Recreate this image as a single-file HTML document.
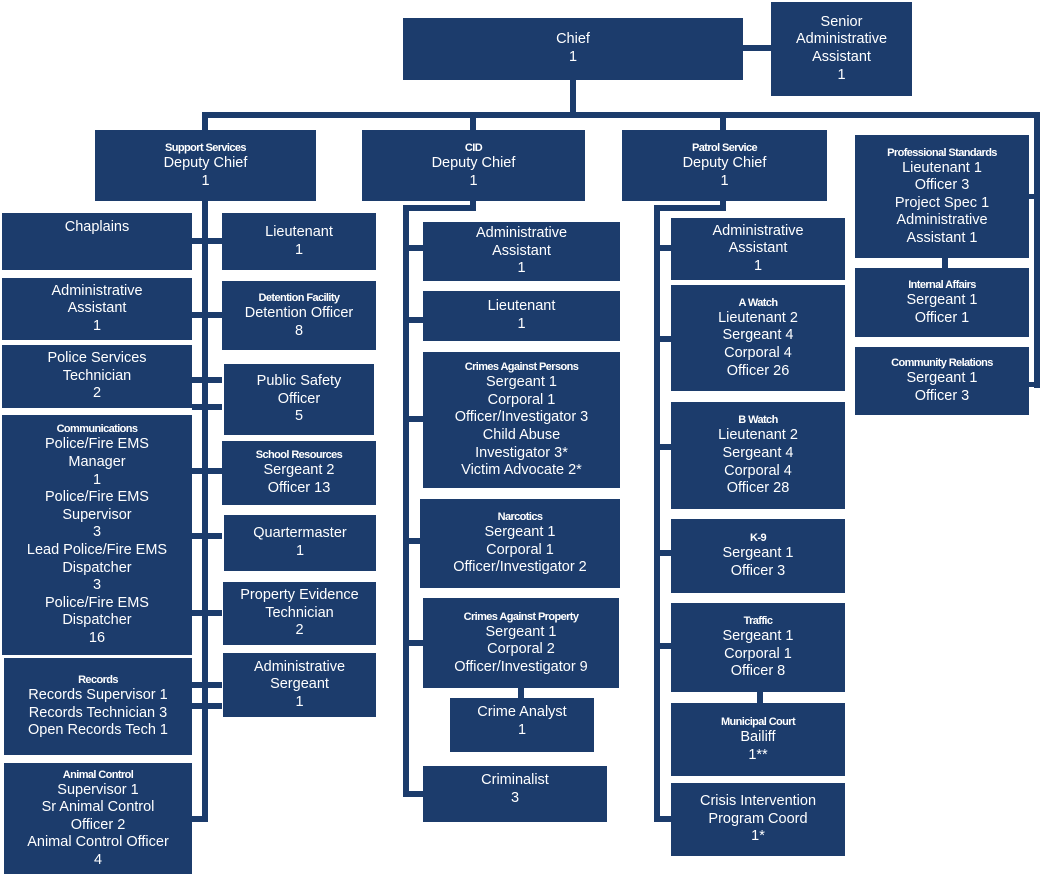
<!DOCTYPE html>
<html><head><meta charset="utf-8"><style>
body{margin:0;background:#fff;}
#c{position:relative;width:1042px;height:879px;overflow:hidden;background:#fff;font-family:"Liberation Sans",sans-serif;}
.b{position:absolute;background:#1c3c6c;color:#fff;display:flex;flex-direction:column;align-items:center;justify-content:center;text-align:center;font-size:14.5px;line-height:17.6px;box-sizing:border-box;}
.b.t{justify-content:flex-start;padding-top:6px;}
.h{font-weight:bold;font-size:11px;letter-spacing:-0.6px;line-height:14px;}
.l{position:absolute;background:#1c3c6c;}
</style></head><body><div id="c">
<!-- connectors -->
<div class="l" style="left:743px;top:45px;width:28px;height:6px"></div>
<div class="l" style="left:570px;top:80px;width:6px;height:36px"></div>
<div class="l" style="left:202px;top:112px;width:838px;height:6px"></div>
<div class="l" style="left:1034px;top:112px;width:6px;height:276px"></div>
<div class="l" style="left:1029px;top:194px;width:8px;height:5px"></div>
<div class="l" style="left:1029px;top:382px;width:8px;height:5px"></div>
<div class="l" style="left:202px;top:112px;width:6px;height:20px"></div>
<div class="l" style="left:470px;top:112px;width:6px;height:20px"></div>
<div class="l" style="left:720px;top:112px;width:6px;height:20px"></div>
<div class="l" style="left:942px;top:258px;width:6px;height:10px"></div>
<!-- support -->
<div class="l" style="left:202px;top:201px;width:6px;height:621px"></div>
<div class="l" style="left:192px;top:238px;width:30px;height:6px"></div>
<div class="l" style="left:192px;top:312px;width:30px;height:6px"></div>
<div class="l" style="left:192px;top:377px;width:30px;height:6px"></div>
<div class="l" style="left:192px;top:404px;width:30px;height:6px"></div>
<div class="l" style="left:192px;top:468px;width:30px;height:6px"></div>
<div class="l" style="left:192px;top:533px;width:30px;height:6px"></div>
<div class="l" style="left:192px;top:610px;width:30px;height:6px"></div>
<div class="l" style="left:192px;top:682px;width:30px;height:6px"></div>
<div class="l" style="left:192px;top:703px;width:30px;height:6px"></div>
<div class="l" style="left:192px;top:816px;width:16px;height:6px"></div>
<!-- CID -->
<div class="l" style="left:470px;top:201px;width:6px;height:9px"></div>
<div class="l" style="left:403px;top:205px;width:73px;height:6px"></div>
<div class="l" style="left:403px;top:205px;width:6px;height:592px"></div>
<div class="l" style="left:403px;top:245px;width:20px;height:6px"></div>
<div class="l" style="left:403px;top:317px;width:20px;height:6px"></div>
<div class="l" style="left:403px;top:416px;width:20px;height:6px"></div>
<div class="l" style="left:403px;top:538px;width:20px;height:6px"></div>
<div class="l" style="left:403px;top:640px;width:20px;height:6px"></div>
<div class="l" style="left:403px;top:791px;width:20px;height:6px"></div>
<div class="l" style="left:518px;top:688px;width:6px;height:10px"></div>
<!-- patrol -->
<div class="l" style="left:720px;top:201px;width:6px;height:9px"></div>
<div class="l" style="left:654px;top:205px;width:72px;height:6px"></div>
<div class="l" style="left:654px;top:205px;width:6px;height:617px"></div>
<div class="l" style="left:654px;top:245px;width:17px;height:6px"></div>
<div class="l" style="left:654px;top:336px;width:17px;height:6px"></div>
<div class="l" style="left:654px;top:444px;width:17px;height:6px"></div>
<div class="l" style="left:654px;top:550px;width:17px;height:6px"></div>
<div class="l" style="left:654px;top:643px;width:17px;height:6px"></div>
<div class="l" style="left:654px;top:816px;width:17px;height:6px"></div>
<div class="l" style="left:757px;top:692px;width:6px;height:11px"></div>
<!-- top boxes -->
<div class="b" style="left:403px;top:18px;width:340px;height:62px">Chief<br>1</div>
<div class="b" style="left:771px;top:2px;width:141px;height:94px">Senior<br>Administrative<br>Assistant<br>1</div>
<div class="b" style="left:95px;top:130px;width:221px;height:71px"><span class="h">Support Services</span>Deputy Chief<br>1</div>
<div class="b" style="left:362px;top:130px;width:223px;height:71px"><span class="h">CID</span>Deputy Chief<br>1</div>
<div class="b" style="left:622px;top:130px;width:205px;height:71px"><span class="h">Patrol Service</span>Deputy Chief<br>1</div>
<div class="b" style="left:855px;top:135px;width:174px;height:123px"><span class="h">Professional Standards</span>Lieutenant 1<br>Officer 3<br>Project Spec 1<br>Administrative<br>Assistant 1</div>
<div class="b" style="left:855px;top:268px;width:174px;height:69px"><span class="h">Internal Affairs</span>Sergeant 1<br>Officer 1</div>
<div class="b" style="left:855px;top:347px;width:174px;height:68px"><span class="h">Community Relations</span>Sergeant 1<br>Officer 3</div>
<!-- support left -->
<div class="b t" style="left:2px;top:213px;width:190px;height:57px">Chaplains</div>
<div class="b" style="left:2px;top:278px;width:190px;height:62px">Administrative<br>Assistant<br>1</div>
<div class="b" style="left:2px;top:345px;width:190px;height:63px">Police Services<br>Technician<br>2</div>
<div class="b" style="left:2px;top:415px;width:190px;height:240px"><span class="h">Communications</span>Police/Fire EMS<br>Manager<br>1<br>Police/Fire EMS<br>Supervisor<br>3<br>Lead Police/Fire EMS<br>Dispatcher<br>3<br>Police/Fire EMS<br>Dispatcher<br>16</div>
<div class="b" style="left:4px;top:658px;width:188px;height:97px"><span class="h">Records</span>Records Supervisor 1<br>Records Technician 3<br>Open Records Tech 1</div>
<div class="b" style="left:4px;top:763px;width:188px;height:111px"><span class="h">Animal Control</span>Supervisor 1<br>Sr Animal Control<br>Officer 2<br>Animal Control Officer<br>4</div>
<!-- support right -->
<div class="b" style="left:222px;top:213px;width:154px;height:57px">Lieutenant<br>1</div>
<div class="b" style="left:222px;top:281px;width:154px;height:69px"><span class="h">Detention Facility</span>Detention Officer<br>8</div>
<div class="b" style="left:224px;top:364px;width:150px;height:71px">Public Safety<br>Officer<br>5</div>
<div class="b" style="left:222px;top:441px;width:154px;height:64px"><span class="h">School Resources</span>Sergeant 2<br>Officer 13</div>
<div class="b" style="left:224px;top:515px;width:152px;height:56px">Quartermaster<br>1</div>
<div class="b" style="left:223px;top:582px;width:153px;height:63px">Property Evidence<br>Technician<br>2</div>
<div class="b" style="left:223px;top:653px;width:153px;height:64px">Administrative<br>Sergeant<br>1</div>
<!-- CID -->
<div class="b" style="left:423px;top:222px;width:197px;height:59px">Administrative<br>Assistant<br>1</div>
<div class="b" style="left:423px;top:291px;width:197px;height:50px">Lieutenant<br>1</div>
<div class="b" style="left:423px;top:352px;width:197px;height:136px"><span class="h">Crimes Against Persons</span>Sergeant 1<br>Corporal 1<br>Officer/Investigator 3<br>Child Abuse<br>Investigator 3*<br>Victim Advocate 2*</div>
<div class="b" style="left:420px;top:499px;width:200px;height:89px"><span class="h">Narcotics</span>Sergeant 1<br>Corporal 1<br>Officer/Investigator 2</div>
<div class="b" style="left:423px;top:598px;width:196px;height:90px"><span class="h">Crimes Against Property</span>Sergeant 1<br>Corporal 2<br>Officer/Investigator 9</div>
<div class="b t" style="left:450px;top:698px;width:144px;height:54px">Crime Analyst<br>1</div>
<div class="b t" style="left:423px;top:766px;width:184px;height:56px">Criminalist<br>3</div>
<!-- patrol -->
<div class="b" style="left:671px;top:218px;width:174px;height:62px">Administrative<br>Assistant<br>1</div>
<div class="b" style="left:671px;top:285px;width:174px;height:106px"><span class="h">A Watch</span>Lieutenant 2<br>Sergeant 4<br>Corporal 4<br>Officer 26</div>
<div class="b" style="left:671px;top:402px;width:174px;height:107px"><span class="h">B Watch</span>Lieutenant 2<br>Sergeant 4<br>Corporal 4<br>Officer 28</div>
<div class="b" style="left:671px;top:519px;width:174px;height:74px"><span class="h">K-9</span>Sergeant 1<br>Officer 3</div>
<div class="b" style="left:671px;top:603px;width:174px;height:89px"><span class="h">Traffic</span>Sergeant 1<br>Corporal 1<br>Officer 8</div>
<div class="b" style="left:671px;top:703px;width:174px;height:73px"><span class="h">Municipal Court</span>Bailiff<br>1**</div>
<div class="b" style="left:671px;top:783px;width:174px;height:73px">Crisis Intervention<br>Program Coord<br>1*</div>
</div></body></html>
